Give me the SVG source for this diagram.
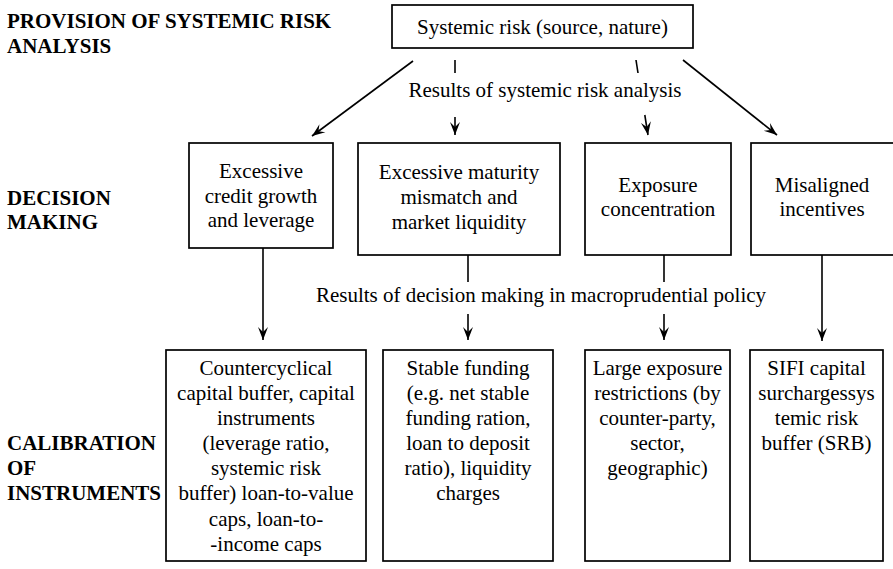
<svg xmlns="http://www.w3.org/2000/svg" width="893" height="569" viewBox="0 0 893 569">
<style>
.box{fill:#fff;stroke:#000;stroke-width:1.7}
.t{font-family:'Liberation Serif','Times New Roman',serif;font-size:21px;fill:#000;text-anchor:middle}
.h{font-family:'Liberation Serif','Times New Roman',serif;font-size:21px;font-weight:bold;fill:#000}
.c{fill:none;stroke:#000;stroke-width:1.6}
</style>
<defs>
<marker id="ah" viewBox="0 0 13 12" refX="13" refY="6" markerWidth="13" markerHeight="12" orient="auto" markerUnits="userSpaceOnUse">
<path d="M0,1 L13,6 L0,11 L5,6 Z" fill="#000"/>
</marker>
</defs>
<rect width="893" height="569" fill="#fff"/>
<g id="headers">
<text class="h" x="7" y="28">PROVISION OF SYSTEMIC RISK</text>
<text class="h" x="7" y="53">ANALYSIS</text>
<text class="h" x="7" y="205">DECISION</text>
<text class="h" x="7" y="229">MAKING</text>
<text class="h" x="7" y="450">CALIBRATION</text>
<text class="h" x="7" y="475">OF</text>
<text class="h" x="7" y="500">INSTRUMENTS</text>
</g>

<g id="connectors">
<line class="c" x1="413" y1="61" x2="312" y2="136" marker-end="url(#ah)"/>
<line class="c" x1="683" y1="60" x2="777" y2="135" marker-end="url(#ah)"/>
<line class="c" x1="455" y1="60" x2="455" y2="73"/>
<line class="c" x1="455" y1="117" x2="455" y2="135" marker-end="url(#ah)"/>
<line class="c" x1="636" y1="60" x2="638" y2="73"/>
<line class="c" x1="644.8" y1="115" x2="648" y2="135" marker-end="url(#ah)"/>
<line class="c" x1="263" y1="248" x2="263" y2="340" marker-end="url(#ah)"/>
<line class="c" x1="468" y1="255" x2="468" y2="282"/>
<line class="c" x1="468" y1="314" x2="468" y2="340" marker-end="url(#ah)"/>
<line class="c" x1="664" y1="255" x2="664" y2="282"/>
<line class="c" x1="664" y1="314" x2="664" y2="340" marker-end="url(#ah)"/>
<line class="c" x1="822" y1="255" x2="822" y2="341" marker-end="url(#ah)"/>
<text class="t" x="545" y="97">Results of systemic risk analysis</text>
<text class="t" x="541" y="302">Results of decision making in macroprudential policy</text>
</g>

<g id="systemic-risk">
<rect class="box" x="392" y="5" width="301" height="43"/>
<text class="t" x="542.5" y="34">Systemic risk (source, nature)</text>
</g>

<g id="credit-growth">
<rect class="box" x="189" y="143" width="144" height="105"/>
<text class="t" x="261" y="178">Excessive</text>
<text class="t" x="261" y="203">credit growth</text>
<text class="t" x="261" y="227">and leverage</text>
</g>

<g id="maturity-mismatch">
<rect class="box" x="358" y="143" width="202" height="112"/>
<text class="t" x="459" y="179">Excessive maturity</text>
<text class="t" x="459" y="204">mismatch and</text>
<text class="t" x="459" y="229">market liquidity</text>
</g>

<g id="exposure-concentration">
<rect class="box" x="585" y="143" width="146" height="112"/>
<text class="t" x="658" y="192">Exposure</text>
<text class="t" x="658" y="216">concentration</text>
</g>

<g id="misaligned-incentives">
<rect class="box" x="751" y="143" width="144" height="112"/>
<text class="t" x="822" y="192">Misaligned</text>
<text class="t" x="822" y="216">incentives</text>
</g>

<g id="countercyclical">
<rect class="box" x="166" y="350" width="200" height="211"/>
<text class="t" x="266" y="375">Countercyclical</text>
<text class="t" x="266" y="400">capital buffer, capital</text>
<text class="t" x="266" y="425">instruments</text>
<text class="t" x="266" y="450">(leverage ratio,</text>
<text class="t" x="266" y="475">systemic risk</text>
<text class="t" x="266" y="500">buffer) loan-to-value</text>
<text class="t" x="266" y="526">caps, loan-to-</text>
<text class="t" x="266" y="551">-income caps</text>
</g>

<g id="stable-funding">
<rect class="box" x="383" y="350" width="170" height="211"/>
<text class="t" x="468" y="375">Stable funding</text>
<text class="t" x="468" y="400">(e.g. net stable</text>
<text class="t" x="468" y="425">funding ration,</text>
<text class="t" x="468" y="450">loan to deposit</text>
<text class="t" x="468" y="475">ratio), liquidity</text>
<text class="t" x="468" y="500">charges</text>
</g>

<g id="large-exposure">
<rect class="box" x="585" y="350" width="145" height="211"/>
<text class="t" x="657.5" y="375">Large exposure</text>
<text class="t" x="657.5" y="400">restrictions (by</text>
<text class="t" x="657.5" y="425">counter-party,</text>
<text class="t" x="657.5" y="450">sector,</text>
<text class="t" x="657.5" y="475">geographic)</text>
</g>

<g id="sifi-capital">
<rect class="box" x="750" y="350" width="133" height="211"/>
<text class="t" x="816.5" y="375">SIFI capital</text>
<text class="t" x="816.5" y="400">surchargessys</text>
<text class="t" x="816.5" y="425">temic risk</text>
<text class="t" x="816.5" y="450">buffer (SRB)</text>
</g>
</svg>
